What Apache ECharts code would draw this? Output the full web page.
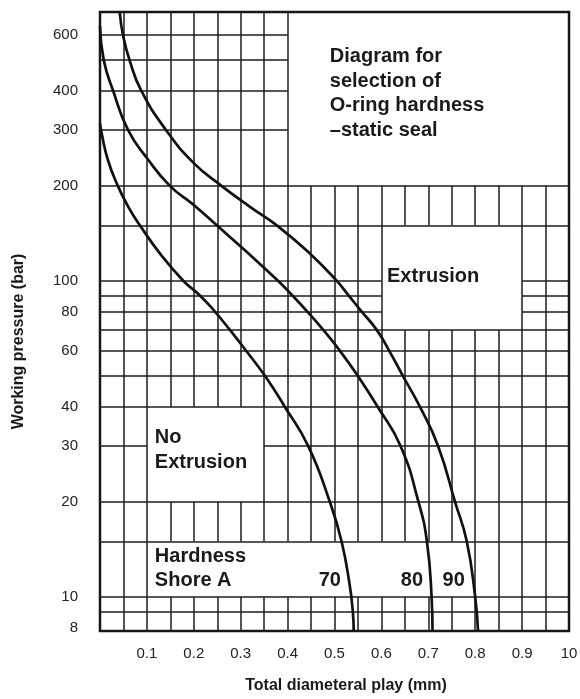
<!DOCTYPE html>
<html>
<head>
<meta charset="utf-8">
<script src="https://cdn.jsdelivr.net/npm/echarts@6/dist/echarts.min.js"></script>
<style>
html,body{margin:0;padding:0;background:#fff;}
#chart{width:580px;height:699px;}
</style>
</head>
<body>
<div id="chart"></div>
<script>
// ---------- data ----------
const xTickValues = [0.1, 0.2, 0.3, 0.4, 0.5, 0.6, 0.7, 0.8, 0.9, 1.0];
const xTickLabels = ['0.1', '0.2', '0.3', '0.4', '0.5', '0.6', '0.7', '0.8', '0.9', '10'];
const yTickLabels = [8, 10, 20, 30, 40, 60, 80, 100, 200, 300, 400, 600];

const hGridPressures = [9, 10, 15, 20, 30, 40, 50, 60, 70, 80, 90, 100, 150, 200, 300, 400, 500, 600];
const vGridPlays = [0.05, 0.1, 0.15, 0.2, 0.25, 0.3, 0.35, 0.4, 0.45, 0.5, 0.55, 0.6, 0.65, 0.7, 0.75, 0.8, 0.85, 0.9, 0.95];

// Hardness Shore A 70
const play70 = [0.000, 0.003, 0.017, 0.038, 0.060, 0.085, 0.130, 0.178, 0.213, 0.245, 0.277, 0.312, 0.352, 0.394, 0.444, 0.490, 0.515, 0.532, 0.539, 0.541];
const pres70 = [315, 296, 241, 200, 172, 150, 121, 100, 90, 80, 70, 60, 50, 40, 30, 20, 15, 11, 9, 7.8];
// Hardness Shore A 80
const play80 = [0.000, 0.008, 0.028, 0.060, 0.100, 0.149, 0.198, 0.249, 0.309, 0.380, 0.410, 0.442, 0.476, 0.512, 0.550, 0.592, 0.641, 0.679, 0.697, 0.707, 0.709];
const pres80 = [640, 500, 400, 300, 245, 200, 175, 150, 125, 100, 90, 80, 70, 60, 50, 40, 30, 20, 15, 10, 7.8];
// Hardness Shore A 90
const play90 = [0.042, 0.049, 0.063, 0.088, 0.141, 0.200, 0.259, 0.319, 0.377, 0.448, 0.505, 0.530, 0.558, 0.590, 0.617, 0.646, 0.682, 0.721, 0.757, 0.782, 0.800, 0.806];
const pres90 = [710, 600, 500, 400, 300, 236, 200, 172, 150, 122, 100, 90, 80, 70, 60, 50, 40, 30, 20, 15, 10, 7.8];

const curveNames = ['70', '80', '90'];

// text blocks
const noteTexts = [
  'Diagram for\nselection of\nO-ring hardness\n\u2013static seal',
  'Extrusion',
  'No\nExtrusion',
  'Hardness\nShore A'
];

// ---------- layout (data-space regions / anchors) ----------
const Y_MIN = 7.8, Y_MAX = 710;
const blankBoxes = [
  {x0: 0.4, x1: 1.0, p0: 200, p1: 1e6},
  {x0: 0.6, x1: 0.9, p0: 70, p1: 150},
  {x0: 0.1, x1: 0.35, p0: 20, p1: 40},
  {x0: 0.1, x1: 0.8, p0: 10, p1: 15}
];
const noteAnchors = [[0.49, 392, 24.5], [0.612, 103, 24], [0.117, 29.1, 25], [0.117, 12.26, 24]];
const curveLabelAnchors = [[0.49, 11.3], [0.665, 11.3], [0.754, 11.3]];

// ---------- helpers ----------
const L = v => Math.log10(v);
function subtract(intervals, a, b) {
  const out = [];
  intervals.forEach(([s, e]) => {
    if (b <= s || a >= e) { out.push([s, e]); return; }
    if (a > s) out.push([s, a]);
    if (b < e) out.push([b, e]);
  });
  return out;
}
const gridSegs = [];
hGridPressures.forEach(p => {
  let iv = [[0, 1]];
  blankBoxes.forEach(bx => { if (p > bx.p0 && p < bx.p1) iv = subtract(iv, bx.x0, bx.x1); });
  iv.forEach(([s, e]) => gridSegs.push({coords: [[s, L(p)], [e, L(p)]]}));
});
vGridPlays.forEach(x => {
  let iv = [[L(Y_MIN), L(Y_MAX)]];
  blankBoxes.forEach(bx => {
    if (x > bx.x0 + 1e-9 && x < bx.x1 - 1e-9) iv = subtract(iv, L(bx.p0), Math.min(L(bx.p1), L(Y_MAX)));
  });
  iv.forEach(([s, e]) => gridSegs.push({coords: [[x, s], [x, e]]}));
});

const curves = [[play70, pres70], [play80, pres80], [play90, pres90]];

const FONT = '"Liberation Sans", Arial, Helvetica, sans-serif';

const chart = echarts.init(document.getElementById('chart'), null, {renderer: 'canvas'});
const option = {
  backgroundColor: '#ffffff',
  animation: false,
  grid: {
    left: 100, right: 11, top: 12, bottom: 68,
    outerBoundsMode: 'none', containLabel: false,
    show: true, borderColor: '#161616', borderWidth: 2.5, backgroundColor: 'transparent'
  },
  xAxis: {
    type: 'value', min: 0, max: 1,
    name: 'Total diameteral play (mm)',
    nameLocation: 'middle', nameGap: 47,
    nameTextStyle: {fontFamily: FONT, fontWeight: 'bold', fontSize: 16, color: '#1a1a1a', padding: [0, 0, 0, 23]},
    axisLine: {show: false}, axisTick: {show: false}, splitLine: {show: false},
    axisLabel: {
      customValues: xTickValues,
      margin: 15, fontFamily: FONT, fontSize: 15, color: '#222',
      formatter: v => {
        let best = 0;
        xTickValues.forEach((t, i) => { if (Math.abs(t - v) < Math.abs(xTickValues[best] - v)) best = i; });
        return xTickLabels[best];
      }
    }
  },
  yAxis: {
    type: 'value', min: L(Y_MIN), max: L(Y_MAX),
    name: 'Working pressure (bar)',
    nameLocation: 'middle', nameGap: 73,
    nameTextStyle: {fontFamily: FONT, fontWeight: 'bold', fontSize: 16, color: '#1a1a1a', padding: [0, 40, 0, 0]},
    axisLine: {show: false}, axisTick: {show: false}, splitLine: {show: false},
    axisLabel: {
      customValues: yTickLabels.map(L),
      margin: 22, fontFamily: FONT, fontSize: 15, color: '#222',
      formatter: v => String(Math.round(Math.pow(10, v)))
    }
  },
  series: [
    {
      type: 'lines', coordinateSystem: 'cartesian2d', silent: true, z: 1,
      lineStyle: {color: '#1c1c1c', width: 1.5, opacity: 1},
      data: gridSegs
    },
    ...curves.map((c, i) => ({
      type: 'line', name: curveNames[i], z: 3, silent: true,
      smooth: 0.5, showSymbol: false, symbol: 'none', clip: true,
      lineStyle: {color: '#111', width: 2.7},
      data: c[0].map((x, j) => [x, L(c[1][j])])
    })),
    {
      type: 'custom', z: 5, silent: true,
      data: noteAnchors.map((a, i) => [a[0], L(a[1]), i]),
      renderItem: (params, api) => {
        const pt = api.coord([api.value(0), api.value(1)]);
        const i = api.value(2);
        return {
          type: 'text', x: pt[0], y: pt[1],
          style: {
            text: noteTexts[i], fill: '#1a1a1a',
            font: 'bold 20px ' + FONT, lineHeight: noteAnchors[i][2],
            align: 'left', verticalAlign: 'middle'
          }
        };
      }
    },
    {
      type: 'custom', z: 5, silent: true,
      data: curveLabelAnchors.map((a, i) => [a[0], L(a[1]), i]),
      renderItem: (params, api) => {
        const pt = api.coord([api.value(0), api.value(1)]);
        return {
          type: 'text', x: pt[0], y: pt[1],
          style: {
            text: curveNames[api.value(2)], fill: '#1a1a1a',
            font: 'bold 20px ' + FONT, align: 'center', verticalAlign: 'middle'
          }
        };
      }
    }
  ]
};
chart.setOption(option);
</script>
</body>
</html>
